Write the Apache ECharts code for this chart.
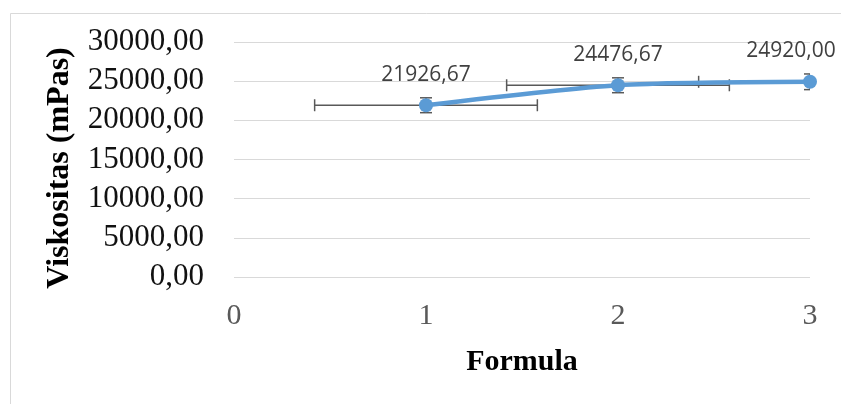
<!DOCTYPE html>
<html><head><meta charset="utf-8">
<script src="https://cdn.jsdelivr.net/npm/echarts@6/dist/echarts.min.js"></script>
<style>html,body{margin:0;padding:0;background:#fff}#c{width:841px;height:404px}</style>
</head><body><div id="c"></div>
<script>
const formula = [1, 2, 3];
const viscosity = [21926.67, 24476.67, 24920.00];
const viscosityLabels = ['21926,67', '24476,67', '24920,00'];
const xError = [0.58, 0.58, 0.58];
const yError = [950, 950, 1000];
const xTickLabels = ['0', '1', '2', '3'];
const yTickLabels = ['0,00', '5000,00', '10000,00', '15000,00', '20000,00', '25000,00', '30000,00'];

const chart = echarts.init(document.getElementById('c'));
const errStyle = { stroke: '#595959', lineWidth: 1.5 };
const option = {
  animation: false,
  backgroundColor: '#fff',
  grid: { left: 234, right: 31, top: 42, bottom: 127, containLabel: false },
  graphic: [
    { type: 'rect', left: 8, top: 11, z: -10, silent: true,
      shape: { width: 850, height: 410 },
      style: { fill: 'none', stroke: '#d9d9d9', lineWidth: 1 } },
    { type: 'text', x: 60, y: 168, rotation: Math.PI / 2, silent: true,
      style: { text: 'Viskositas (mPas)', fontFamily: 'Liberation Serif', fontWeight: 'bold',
               fontSize: 32, fill: '#000', align: 'center', verticalAlign: 'middle' } }
  ],
  xAxis: {
    type: 'value', min: 0, max: 3, interval: 1,
    name: 'Formula', nameLocation: 'middle', nameGap: 70,
    nameTextStyle: { fontFamily: 'Liberation Serif', fontWeight: 'bold', fontSize: 30, color: '#000' },
    axisLine: { show: false }, axisTick: { show: false }, splitLine: { show: false },
    axisLabel: { margin: 24, fontFamily: 'Liberation Serif', fontSize: 30, color: '#595959',
                 formatter: v => xTickLabels[Math.round(v)] }
  },
  yAxis: {
    type: 'value', min: 0, max: 30000, interval: 5000,
    axisLine: { show: false }, axisTick: { show: false },
    splitLine: { lineStyle: { color: '#d9d9d9', width: 1 } },
    axisLabel: { margin: 30, fontFamily: 'Liberation Serif', fontSize: 31, color: '#111',
                 formatter: v => yTickLabels[Math.round(v / 5000)] }
  },
  series: [
    {
      type: 'custom', z: 1, clip: true,
      encode: { x: 0, y: 1 },
      data: formula.map((x, i) => [x, viscosity[i], xError[i], yError[i]]),
      renderItem: (params, api) => {
        const x = api.value(0), y = api.value(1), ex = api.value(2), ey = api.value(3);
        const c = api.coord([x, y]);
        const l = api.coord([x - ex, y]), r = api.coord([x + ex, y]);
        const t = api.coord([x, y + ey]), b = api.coord([x, y - ey]);
        const cap = 6;
        return { type: 'group', children: [
          { type: 'line', shape: { x1: l[0], y1: c[1], x2: r[0], y2: c[1] }, style: errStyle },
          { type: 'line', shape: { x1: l[0], y1: c[1] - cap, x2: l[0], y2: c[1] + cap }, style: errStyle },
          { type: 'line', shape: { x1: r[0], y1: c[1] - cap, x2: r[0], y2: c[1] + cap }, style: errStyle },
          { type: 'line', shape: { x1: c[0], y1: t[1], x2: c[0], y2: b[1] }, style: errStyle },
          { type: 'line', shape: { x1: c[0] - cap, y1: t[1], x2: c[0] + cap, y2: t[1] }, style: errStyle },
          { type: 'line', shape: { x1: c[0] - cap, y1: b[1], x2: c[0] + cap, y2: b[1] }, style: errStyle }
        ] };
      }
    },
    {
      type: 'line', z: 5, smooth: 0.25,
      symbol: 'circle', symbolSize: 14, showSymbol: true,
      itemStyle: { color: '#5B9BD5' },
      lineStyle: { color: '#5B9BD5', width: 4.5 },
      data: formula.map((x, i) => ({
        value: [x, viscosity[i]],
        label: i === formula.length - 1 ? { offset: [-19, 0] } : {}
      })),
      label: {
        show: true, position: 'top', distance: 13,
        fontFamily: 'Open Sans', fontSize: 21, color: '#404040',
        formatter: p => viscosityLabels[p.dataIndex]
      }
    }
  ]
};
chart.setOption(option);
</script>
</body></html>
